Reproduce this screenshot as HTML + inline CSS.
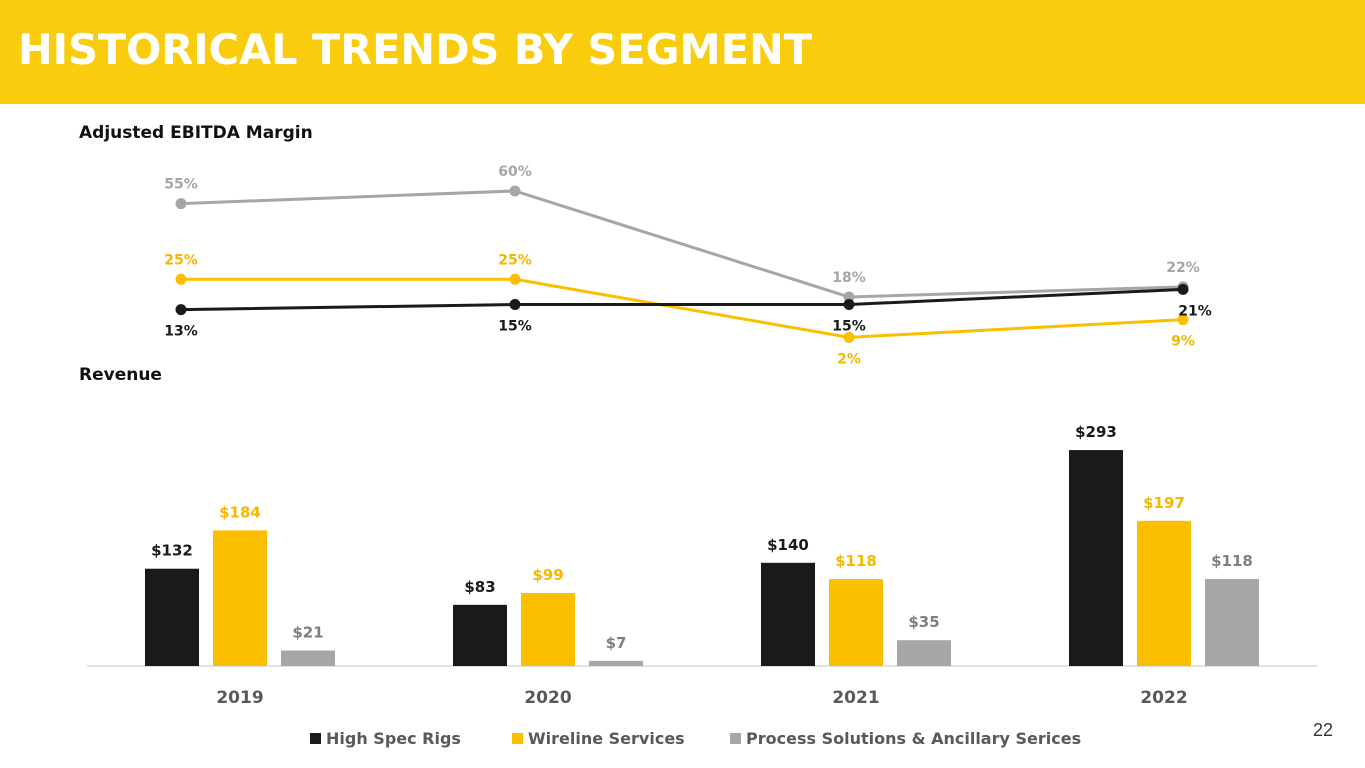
<!DOCTYPE html>
<html><head><meta charset="utf-8"><style>
body{margin:0;width:1365px;height:768px;background:#fff;font-family:"DejaVu Sans","Liberation Sans",sans-serif;overflow:hidden;position:relative}
.hdr{position:absolute;left:0;top:0;width:1365px;height:104px;background:#F9CD0E}
.hdr h1{margin:0;position:absolute;left:18px;top:25px;color:#fff;font-size:42px;font-weight:bold;white-space:nowrap;transform-origin:0 0;line-height:1.2}
.sub{position:absolute;left:79px;font-weight:bold;font-size:17px;color:#111}
</style></head><body>
<div class="hdr"><h1 id="ttl">HISTORICAL TRENDS BY SEGMENT</h1></div>
<div class="sub" style="top:123px">Adjusted EBITDA Margin</div>
<div class="sub" style="top:365px">Revenue</div>
<div style="position:absolute;left:1313px;top:720px;font-size:18px;color:#333;font-family:'Liberation Sans',sans-serif">22</div>
<svg id="c" width="1365" height="768" style="position:absolute;left:0;top:0"></svg>
<script>
const years=["2019","2020","2021","2022"];
const marginRigs=[13,15,15,21];
const marginWireline=[25,25,2,9];
const marginProcess=[55,60,18,22];
const revRigs=[132,83,140,293];
const revWireline=[184,99,118,197];
const revProcess=[21,7,35,118];
const seriesNames=["High Spec Rigs","Wireline Services","Process Solutions & Ancillary Serices"];
const colors=["#1a1a1a","#FAC000","#A6A6A6"];
const labelColors=["#1a1a1a","#F5B800","#A6A6A6"];
const ttl=document.getElementById('ttl');const w=ttl.getBoundingClientRect().width;ttl.style.transform='scaleX('+(794/w)+')';
const svg=document.getElementById('c');const NS="http://www.w3.org/2000/svg";
function mk(t,a,p){const e=document.createElementNS(NS,t);for(const k in a)e.setAttribute(k,a[k]);(p||svg).appendChild(e);return e;}
const lx=i=>181+i*334, ly=v=>342.4-v*2.524;
const bx=(i,s)=>240+i*308+(s-1)*68, by=v=>666-v*0.737;
let ax=mk('line',{x1:87,x2:1317,y1:666,y2:666,stroke:'#D9D9D9','stroke-width':1.5});


years.forEach((y,i)=>{const t=mk('text',{x:240+i*308,y:703,'text-anchor':'middle','font-size':17,'font-weight':'bold',fill:'#595959'});t.textContent=y;

});
[revRigs,revWireline,revProcess].forEach((arr,s)=>{arr.forEach((v,i)=>{
const r=mk('rect',{x:bx(i,s)-27,y:by(v),width:54,height:666-by(v),fill:colors[s]});


const t=mk('text',{x:bx(i,s),y:by(v)-13,'text-anchor':'middle','font-size':15,'font-weight':'bold',fill:s==2?'#7F7F7F':labelColors[s]});t.textContent='$'+v;


});});
const lines=[[marginProcess,2],[marginWireline,1],[marginRigs,0]];
lines.forEach(([arr,s])=>{
const p=mk('polyline',{points:arr.map((v,i)=>lx(i)+','+ly(v)).join(' '),fill:'none',stroke:colors[s],'stroke-width':3});


arr.forEach((v,i)=>{
const c=mk('circle',{cx:lx(i),cy:ly(v),r:5.5,fill:colors[s]});


let below=s==0||(s==1&&i>=2);
let xoff=(s==0&&i==3)?12:0;
const t=mk('text',{x:lx(i)+xoff,y:below?ly(v)+26:ly(v)-15,'text-anchor':'middle','font-size':14,'font-weight':'bold',fill:labelColors[s]});t.textContent=v+'%';


});});
const lgx=[310,512,730];
seriesNames.forEach((n,s)=>{
const r=mk('rect',{x:lgx[s],y:733,width:11,height:11,fill:colors[s]});


const t=mk('text',{x:lgx[s]+16,y:744,'font-size':16,'font-weight':'bold',fill:'#595959'});t.textContent=n;


});
</script>
</body></html>
